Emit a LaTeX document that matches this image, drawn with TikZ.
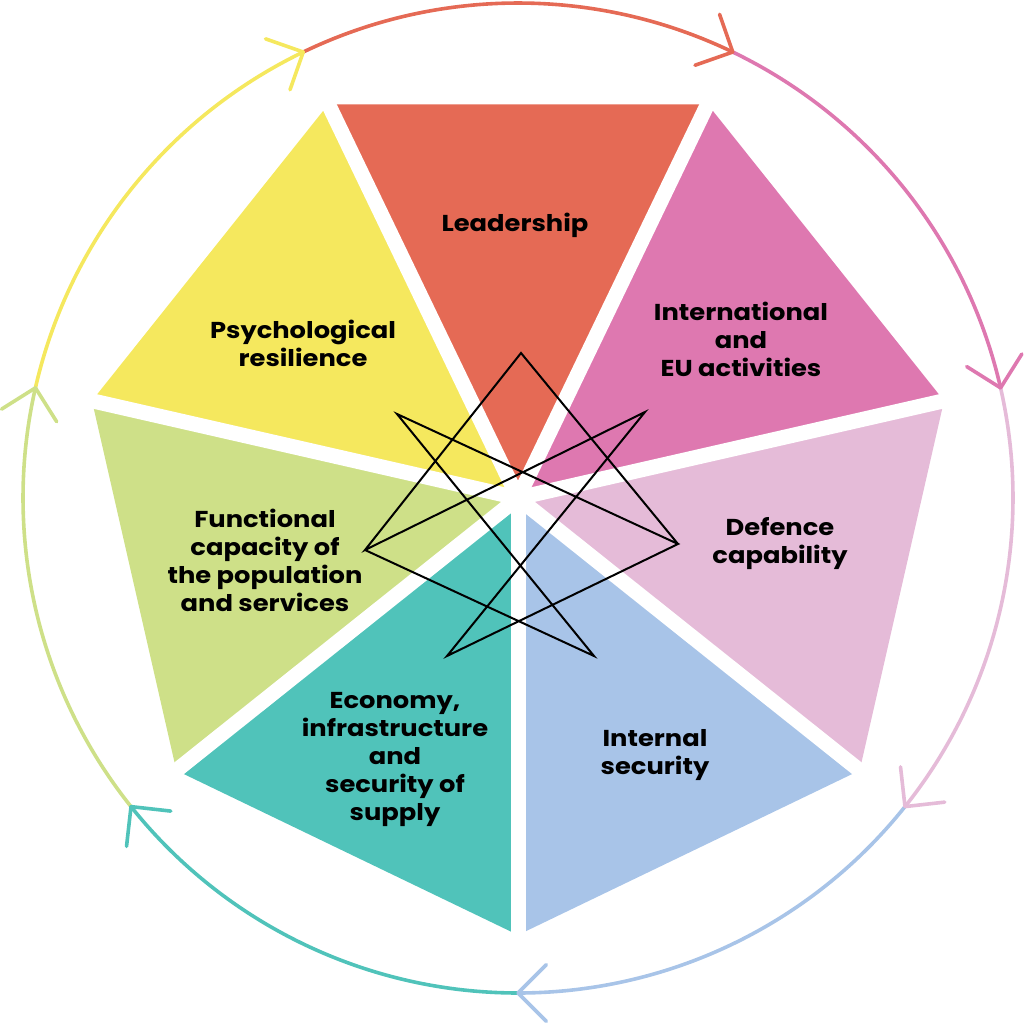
\documentclass[tikz,border=0pt]{standalone}
\usepackage{fontspec}
\setmainfont{Poppins}
\newfontfamily\lblfont{Poppins}[FakeStretch=1.12]
\usetikzlibrary{calc}
\definecolor{cLead}{HTML}{E56A55}
\definecolor{cIntl}{HTML}{DE78B0}
\definecolor{cDef}{HTML}{E5BBD8}
\definecolor{cInt}{HTML}{A8C4E8}
\definecolor{cEco}{HTML}{50C3BA}
\definecolor{cFun}{HTML}{CEE088}
\definecolor{cPsy}{HTML}{F5E85E}
\begin{document}
\begin{tikzpicture}[x=1pt,y=1pt,
  lbl/.style={font=\lblfont\bfseries\fontsize{23}{28}\selectfont, align=center, text=black, inner sep=0pt},
  ring/.style={line width=3.6pt, line cap=round, line join=round},
  spoke/.style={white, line width=15pt},
  starline/.style={black, line width=2pt, line join=miter}]
\useasboundingbox (-518,-526) rectangle (506,498);
\coordinate (O) at (0,0);
\foreach \k in {0,...,6} \coordinate (V\k) at ({-90+\k*360/7}:437);
% sectors
\fill[cInt]  (O) -- (V0) -- (V1) -- cycle;
\fill[cDef]  (O) -- (V1) -- (V2) -- cycle;
\fill[cIntl] (O) -- (V2) -- (V3) -- cycle;
\fill[cLead] (O) -- (V3) -- (V4) -- cycle;
\fill[cPsy]  (O) -- (V4) -- (V5) -- cycle;
\fill[cFun]  (O) -- (V5) -- (V6) -- cycle;
\fill[cEco]  (O) -- (V6) -- (V0) -- cycle;
\foreach \k in {0,...,6} \draw[spoke] (O) -- ({-90+\k*360/7}:465);
% outer ring
\foreach \k/\c in {0/cInt,1/cDef,2/cIntl,3/cLead,4/cPsy,5/cFun,6/cEco} {
  \pgfmathsetmacro\a{-90+\k*360/7}
  \pgfmathsetmacro\b{\a+360/7}
  \draw[\c, ring] (\b:495) arc[start angle=\b, end angle=\a, radius=495];
}
\foreach \k/\c in {0/cInt,1/cDef,2/cIntl,3/cLead,4/cPsy,5/cFun,6/cEco} {
  \pgfmathsetmacro\a{-90+\k*360/7}
  \coordinate (T\k) at (\a:495);
  \draw[\c, ring] ($(T\k)+(\a+45:40)$) -- (T\k) -- ($(T\k)+(\a+135:40)$);
}
% star figure
\coordinate (St) at (3,145);
\coordinate (Sur) at (127,86);
\coordinate (Sr) at (160,-46);
\coordinate (Sbr) at (76,-158);
\coordinate (Sbl) at (-71,-158);
\coordinate (Sl) at (-153,-52);
\coordinate (Sul) at (-121,84);
\draw[starline] (Sr) -- (St) -- (Sl) -- (Sur) -- (Sbl) -- (Sr) -- (Sul) -- (Sbr) -- (Sl);
% labels
\node[lbl] (lead) at (-3,273) {Leadership};
\node[lbl] (psy) at (-215,155) {Psychological\\resilience};
\node[lbl] (intl) at (223,159) {International\\and\\EU activities};
\node[lbl] (def) at (262,-46) {Defence\\capability};
\node[lbl] (ins) at (137,-257) {Internal\\security};
\node[lbl] (eco) at (-123,-261) {Economy,\\infrastructure\\and\\security of\\supply};
\node[lbl] (fun) at (-253,-62) {Functional\\capacity of\\the population\\and services};
\end{tikzpicture}
\end{document}
